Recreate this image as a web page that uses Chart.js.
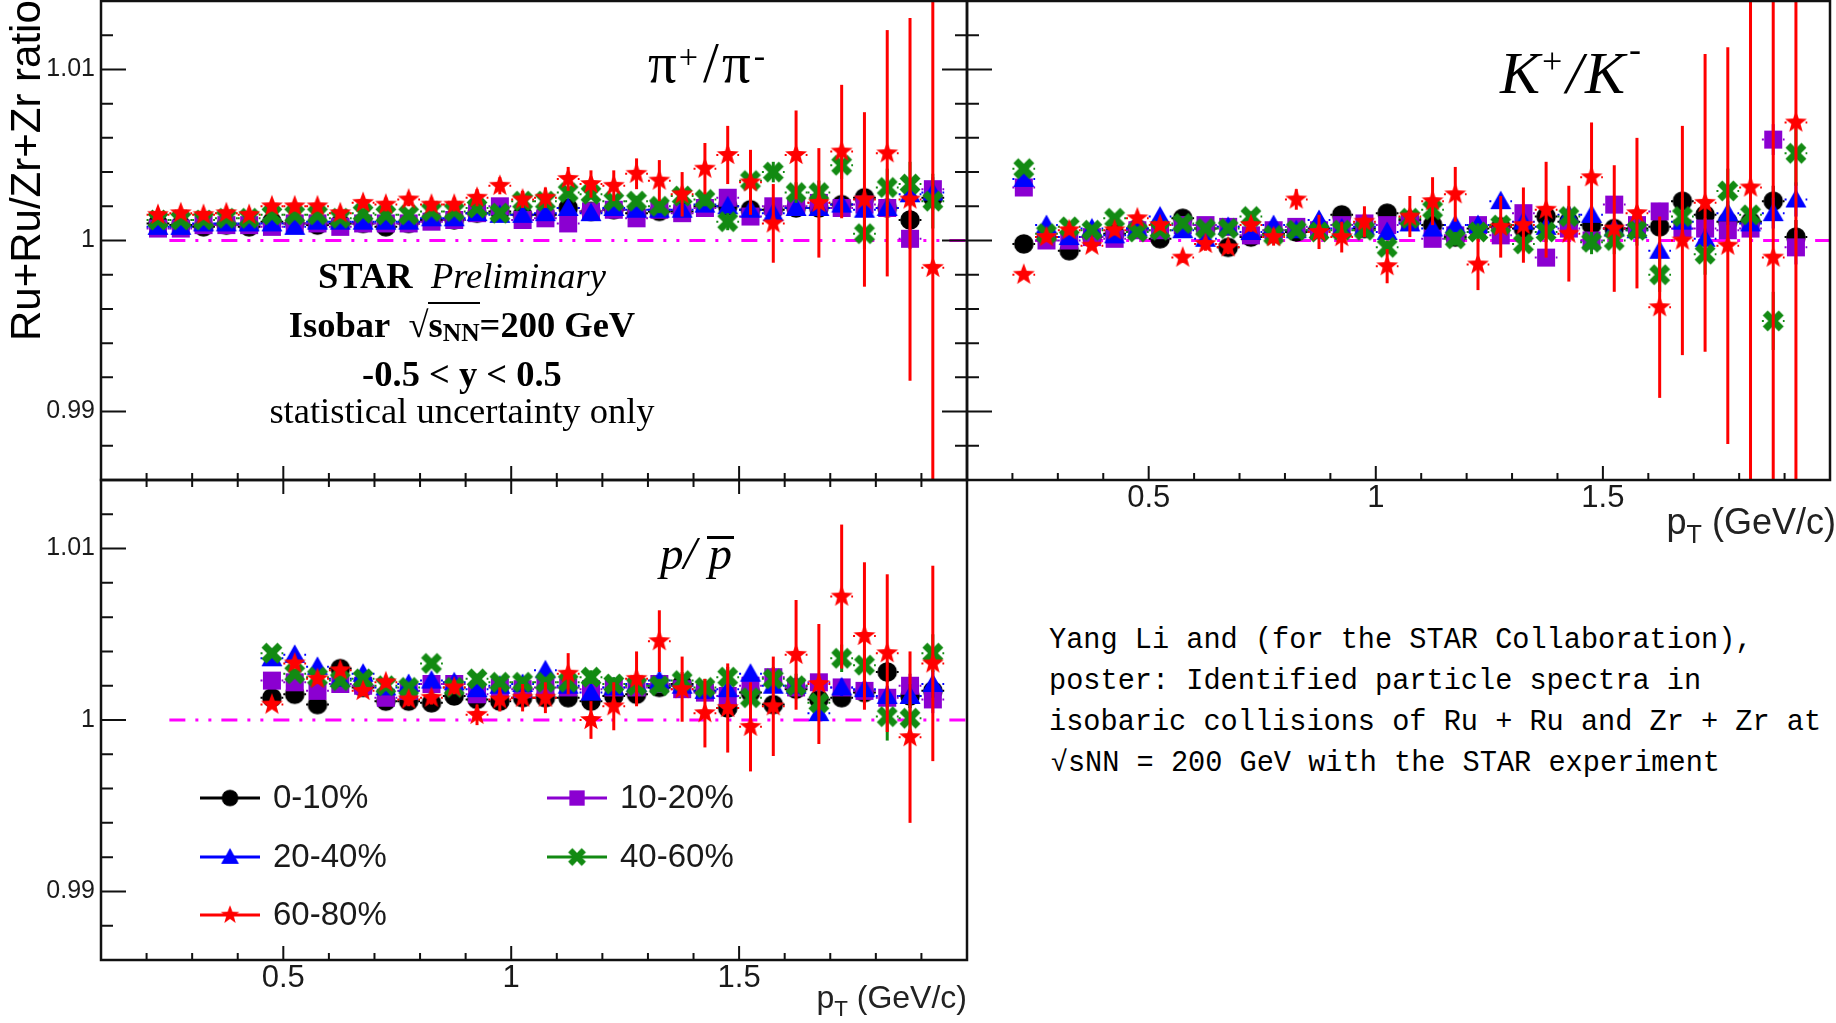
<!DOCTYPE html>
<html>
<head>
<meta charset="utf-8">
<title>Isobar ratios</title>
<script src="https://cdn.jsdelivr.net/npm/chart.js@4.4.1/dist/chart.umd.min.js"></script>
<style>
  html, body { margin: 0; padding: 0; background: #fff; }
  body { width: 1836px; height: 1023px; overflow: hidden; position: relative; }
  canvas { position: absolute; }
  .txt { position: absolute; white-space: nowrap; line-height: 1; color: #000; }
  .serif { font-family: "Liberation Serif", "Times New Roman", serif; }
  .sans { font-family: "Liberation Sans", Arial, sans-serif; }
  .up { position: relative; font-size: 0.6em; }
  .dn { position: relative; font-size: 0.7em; }
</style>
</head>
<body>
<canvas id="pionChart" width="980" height="490" style="left:0;top:0"></canvas>
<canvas id="kaonChart" width="876" height="540" style="left:960px;top:0"></canvas>
<canvas id="protonChart" width="980" height="553" style="left:0;top:470px"></canvas>

<div class="txt sans" style="left:5px;top:341px;font-size:42px;transform-origin:0 0;transform:rotate(-90deg)">Ru+Ru/Zr+Zr ratio</div>

<div class="txt serif" style="left:648px;top:34px;font-size:57px">π<span class="up" style="top:-0.4em;margin:0 2px">+</span><span style="margin:0 3px">/</span>π<span class="up" style="top:-0.45em;margin-left:3px">-</span></div>
<div class="txt serif" style="left:1500px;top:43px;font-size:60px;font-style:italic">K<span class="up" style="top:-0.55em;margin:0 4px 0 2px;font-style:normal">+</span>/<span style="margin-left:2px">K</span><span class="up" style="top:-0.9em;margin-left:4px">-</span></div>
<div class="txt serif" style="left:660px;top:530px;font-size:47px;font-style:italic">p/<span style="display:inline-block;margin-left:10px;border-top:3px solid #000;line-height:0.62em;padding:0 2px">p</span></div>

<div class="txt serif" style="left:0;width:924px;text-align:center;top:258px;font-size:36.5px"><b>STAR</b>&nbsp; <i>Preliminary</i></div>
<div class="txt serif" style="left:0;width:924px;text-align:center;top:307px;font-size:36.5px"><b>Isobar&nbsp; √<span style="border-top:2px solid #000">s<span class="dn" style="top:0.15em">NN</span></span>=200 GeV</b></div>
<div class="txt serif" style="left:0;width:924px;text-align:center;top:356px;font-size:36.5px"><b>-0.5 &lt; y &lt; 0.5</b></div>
<div class="txt serif" style="left:0;width:924px;text-align:center;top:393px;font-size:36.5px">statistical uncertainty only</div>

<div class="txt sans" style="right:0;top:504px;font-size:36px;color:#222">p<span class="dn" style="top:0.35em">T</span> (GeV/c)</div>
<div class="txt sans" style="right:869px;top:981px;font-size:32px;color:#222">p<span class="dn" style="top:0.35em">T</span> (GeV/c)</div>

<div class="txt" style="left:1049px;top:620px;font-family:'Liberation Mono',monospace;font-size:28.6px;line-height:41px">Yang Li and (for the STAR Collaboration),<br>poster: Identified particle spectra in<br>isobaric collisions of Ru + Ru and Zr + Zr at<br>&#8202;√sNN = 200 GeV with the STAR experiment</div>

<script>
// centrality classes, in legend order
const centralityLabels = ['0-10%', '10-20%', '20-40%', '40-60%', '60-80%'];

// axis ranges and tick values
const xMin = 0.1, xMax = 2.0;
const yMin = 0.986, yMax = 1.014;
const xTickValues = [0.5, 1, 1.5];
const xMinorTicks = [0.2, 0.3, 0.4, 0.6, 0.7, 0.8, 0.9, 1.1, 1.2, 1.3, 1.4, 1.6, 1.7, 1.8, 1.9];
const yTickValues = [0.99, 1, 1.01];
const yMinorTicks = [0.988, 0.992, 0.994, 0.996, 0.998, 1.002, 1.004, 1.006, 1.008, 1.012];
const binHalfWidth = 0.025;
const unityFrom = 0.25;

// pi+/pi-
const pionPt = [0.225,0.275,0.325,0.375,0.425,0.475,0.525,0.575,0.625,0.675,0.725,0.775,0.825,0.875,0.925,0.975,1.025,1.075,1.125,1.175,1.225,1.275,1.325,1.375,1.425,1.475,1.525,1.575,1.625,1.675,1.725,1.775,1.825,1.875,1.925];
const pion0_10  = [1.0010,1.0009,1.0008,1.0009,1.0008,1.0011,1.0010,1.0009,1.0010,1.0010,1.0008,1.0010,1.0012,1.0012,1.0016,1.0017,1.0015,1.0015,1.0019,1.0017,1.0018,1.0016,1.0017,1.0017,1.0020,1.0020,1.0018,1.0018,1.0019,1.0019,1.0021,1.0025,1.0019,1.0012,1.0025];
const pion10_20 = [1.0007,1.0007,1.0009,1.0009,1.0009,1.0008,1.0010,1.0010,1.0008,1.0010,1.0010,1.0010,1.0011,1.0012,1.0016,1.0020,1.0012,1.0013,1.0010,1.0017,1.0018,1.0013,1.0018,1.0016,1.0019,1.0025,1.0014,1.0020,1.0020,1.0022,1.0019,1.0021,1.0019,1.0001,1.0030];
const pion20_40 = [1.0008,1.0008,1.0010,1.0010,1.0010,1.0010,1.0008,1.0011,1.0011,1.0011,1.0011,1.0011,1.0013,1.0013,1.0016,1.0015,1.0015,1.0016,1.0019,1.0016,1.0019,1.0018,1.0018,1.0018,1.0021,1.0020,1.0018,1.0016,1.0019,1.0019,1.0021,1.0018,1.0019,1.0027,1.0028];
const pion40_60 = [1.0012,1.0012,1.0012,1.0013,1.0013,1.0015,1.0015,1.0015,1.0013,1.0016,1.0015,1.0015,1.0017,1.0017,1.0019,1.0016,1.0023,1.0023,1.0028,1.0027,1.0023,1.0023,1.0020,1.0026,1.0024,1.0011,1.0035,1.0040,1.0028,1.0028,1.0044,1.0004,1.0031,1.0033,1.0023];
const pion60_80 = [1.0015,1.0016,1.0015,1.0016,1.0015,1.0020,1.0020,1.0020,1.0016,1.0022,1.0021,1.0024,1.0021,1.0021,1.0025,1.0032,1.0024,1.0025,1.0036,1.0033,1.0032,1.0039,1.0035,1.0027,1.0042,1.0050,1.0034,1.0010,1.0050,1.0022,1.0052,1.0024,1.0051,1.0024,0.9984];
const pionErrCentral = [0.0001,0.0001,0.0001,0.0001,0.0001,0.0001,0.0001,0.0001,0.0001,0.0001,0.0001,0.0001,0.0001,0.0001,0.0001,0.0001,0.0001,0.0001,0.0002,0.0002,0.0002,0.0002,0.0002,0.0002,0.0002,0.0003,0.0003,0.0003,0.0003,0.0004,0.0004,0.0005,0.0005,0.0006,0.0007];
const pionErr40_60 = [0.0001,0.0001,0.0001,0.0001,0.0001,0.0001,0.0001,0.0001,0.0002,0.0002,0.0002,0.0002,0.0002,0.0002,0.0002,0.0002,0.0002,0.0003,0.0003,0.0003,0.0003,0.0003,0.0004,0.0004,0.0004,0.0005,0.0005,0.0006,0.0006,0.0007,0.0008,0.0009,0.0011,0.0013,0.0016];
const pionErr60_80 = [0.0002,0.0002,0.0002,0.0002,0.0002,0.0003,0.0003,0.0003,0.0003,0.0003,0.0004,0.0004,0.0004,0.0004,0.0005,0.0005,0.0005,0.0006,0.0007,0.0008,0.0009,0.0009,0.0012,0.0013,0.0015,0.0017,0.0019,0.0023,0.0026,0.0032,0.0039,0.0051,0.0072,0.0106,0.0190];

// K+/K-
const kaonPt = [0.225,0.275,0.325,0.375,0.425,0.475,0.525,0.575,0.625,0.675,0.725,0.775,0.825,0.875,0.925,0.975,1.025,1.075,1.125,1.175,1.225,1.275,1.325,1.375,1.425,1.475,1.525,1.575,1.625,1.675,1.725,1.775,1.825,1.875,1.925];
const kaon0_10  = [0.9998,1.0002,0.9994,1.0002,1.0004,1.0007,1.0001,1.0013,1.0007,0.9996,1.0002,1.0004,1.0005,1.0007,1.0015,1.0007,1.0016,1.0012,1.0009,1.0002,1.0007,1.0008,1.0007,1.0014,1.0011,1.0009,1.0007,1.0007,1.0008,1.0023,1.0015,1.0011,1.0011,1.0023,1.0002];
const kaon10_20 = [1.0031,1.0000,1.0000,1.0002,1.0001,1.0006,1.0006,1.0009,1.0009,1.0008,1.0003,1.0006,1.0008,1.0006,1.0009,1.0010,1.0009,1.0011,1.0001,1.0003,1.0009,1.0003,1.0016,0.9990,1.0007,1.0000,1.0021,1.0009,1.0017,1.0007,1.0007,1.0006,1.0007,1.0059,0.9996];
const kaon20_40 = [1.0036,1.0009,1.0002,1.0007,1.0003,1.0007,1.0014,1.0006,1.0001,1.0008,1.0005,1.0009,1.0006,1.0012,1.0007,1.0008,1.0005,1.0010,1.0007,1.0009,1.0009,1.0023,1.0011,1.0008,1.0015,1.0015,1.0007,1.0006,0.9994,1.0011,1.0001,1.0016,1.0010,1.0016,1.0024];
const kaon40_60 = [1.0042,1.0004,1.0008,1.0006,1.0013,1.0005,1.0006,1.0010,1.0007,1.0007,1.0014,1.0003,1.0006,1.0005,1.0006,1.0006,0.9996,1.0013,1.0018,1.0001,1.0005,1.0009,0.9998,1.0005,1.0014,0.9999,1.0000,1.0006,0.9980,1.0014,0.9992,1.0029,1.0015,0.9953,1.0051];
const kaon60_80 = [0.9980,1.0002,1.0006,0.9997,1.0006,1.0013,1.0009,0.9990,0.9998,0.9996,1.0009,1.0002,1.0024,1.0005,1.0002,1.0011,0.9985,1.0014,1.0023,1.0027,0.9986,1.0008,1.0009,1.0018,1.0004,1.0037,1.0007,1.0016,0.9961,1.0000,1.0022,0.9997,1.0031,0.9990,1.0069];
const kaonErrCentral = [0.0001,0.0001,0.0001,0.0001,0.0001,0.0001,0.0001,0.0001,0.0001,0.0001,0.0002,0.0002,0.0002,0.0002,0.0002,0.0002,0.0002,0.0002,0.0003,0.0003,0.0003,0.0003,0.0003,0.0004,0.0004,0.0004,0.0004,0.0005,0.0005,0.0005,0.0006,0.0007,0.0008,0.0009,0.0010];
const kaonErr40_60 = [0.0002,0.0002,0.0002,0.0002,0.0002,0.0002,0.0002,0.0002,0.0002,0.0002,0.0003,0.0003,0.0003,0.0003,0.0003,0.0003,0.0004,0.0004,0.0004,0.0004,0.0005,0.0005,0.0005,0.0006,0.0006,0.0007,0.0008,0.0009,0.0010,0.0011,0.0012,0.0013,0.0015,0.0017,0.0019];
const kaonErr60_80 = [0.0002,0.0002,0.0002,0.0002,0.0003,0.0003,0.0003,0.0003,0.0004,0.0004,0.0004,0.0005,0.0006,0.0010,0.0009,0.0009,0.0010,0.0012,0.0014,0.0016,0.0015,0.0018,0.0022,0.0028,0.0028,0.0032,0.0037,0.0044,0.0053,0.0067,0.0087,0.0116,0.0190,0.0200,0.0220];

// p/pbar
const protonPt = [0.475,0.525,0.575,0.625,0.675,0.725,0.775,0.825,0.875,0.925,0.975,1.025,1.075,1.125,1.175,1.225,1.275,1.325,1.375,1.425,1.475,1.525,1.575,1.625,1.675,1.725,1.775,1.825,1.875,1.925];
const proton0_10  = [1.0013,1.0015,1.0009,1.0030,1.0019,1.0011,1.0011,1.0010,1.0014,1.0012,1.0011,1.0013,1.0013,1.0013,1.0011,1.0014,1.0015,1.0019,1.0021,1.0017,1.0007,1.0016,1.0009,1.0018,1.0012,1.0013,1.0016,1.0028,1.0014,1.0017];
const proton10_20 = [1.0023,1.0022,1.0017,1.0021,1.0020,1.0013,1.0017,1.0021,1.0021,1.0015,1.0019,1.0018,1.0019,1.0019,1.0018,1.0019,1.0019,1.0021,1.0018,1.0016,1.0014,1.0020,1.0025,1.0019,1.0022,1.0019,1.0017,1.0013,1.0020,1.0012];
const proton20_40 = [1.0036,1.0038,1.0031,1.0024,1.0027,1.0019,1.0021,1.0023,1.0022,1.0018,1.0020,1.0021,1.0029,1.0020,1.0016,1.0019,1.0021,1.0023,1.0020,1.0017,1.0018,1.0027,1.0020,1.0020,1.0004,1.0019,1.0018,1.0014,1.0014,1.0021];
const proton40_60 = [1.0039,1.0027,1.0025,1.0023,1.0024,1.0020,1.0019,1.0033,1.0019,1.0024,1.0022,1.0022,1.0022,1.0022,1.0025,1.0021,1.0020,1.0020,1.0023,1.0019,1.0025,1.0013,1.0024,1.0020,1.0010,1.0036,1.0032,1.0002,1.0001,1.0039];
const proton60_80 = [1.0009,1.0033,1.0024,1.0029,1.0017,1.0022,1.0012,1.0013,1.0019,1.0003,1.0012,1.0013,1.0013,1.0027,1.0000,1.0008,1.0024,1.0046,1.0018,1.0004,1.0007,0.9996,1.0008,1.0038,1.0021,1.0072,1.0049,1.0039,0.9990,1.0033];
const protonErrCentral = [0.0001,0.0001,0.0001,0.0001,0.0001,0.0001,0.0001,0.0001,0.0002,0.0002,0.0002,0.0002,0.0002,0.0002,0.0002,0.0002,0.0003,0.0003,0.0003,0.0003,0.0003,0.0004,0.0004,0.0004,0.0004,0.0005,0.0005,0.0006,0.0007,0.0008];
const protonErr40_60 = [0.0002,0.0002,0.0002,0.0002,0.0002,0.0002,0.0002,0.0002,0.0002,0.0003,0.0003,0.0003,0.0003,0.0003,0.0004,0.0004,0.0004,0.0004,0.0005,0.0005,0.0006,0.0006,0.0007,0.0007,0.0008,0.0008,0.0009,0.0014,0.0010,0.0011];
const protonErr60_80 = [0.0002,0.0003,0.0003,0.0003,0.0003,0.0003,0.0004,0.0004,0.0004,0.0006,0.0007,0.0008,0.0009,0.0012,0.0011,0.0014,0.0016,0.0018,0.0019,0.0020,0.0026,0.0026,0.0029,0.0032,0.0035,0.0042,0.0043,0.0046,0.0050,0.0057];

const colors = ['#000000', '#8b00d1', '#0000ff', '#128a12', '#ff0000'];
const shapes = ['circle', 'square', 'triangle', 'cross', 'star'];

Chart.defaults.font.family = '"Liberation Sans", Arial, sans-serif';

// ROOT-like filled markers, drawn once and used as point styles
function makeMarker(shape, color) {
    var c = document.createElement('canvas');
    c.width = c.height = 26;
    var g = c.getContext('2d');
    g.fillStyle = color;
    g.strokeStyle = color;
    g.translate(13, 13);
    g.beginPath();
    if (shape === 'circle') g.arc(0, 0, 9.8, 0, Math.PI * 2);
    if (shape === 'square') g.rect(-9, -9, 18, 18);
    if (shape === 'triangle') { g.moveTo(0, -10.5); g.lineTo(10.5, 8); g.lineTo(-10.5, 8); g.closePath(); }
    if (shape === 'star') {
        for (var k = 0; k < 10; k++) {
            var r = k % 2 ? 4.8 : 11.5;
            var a = -Math.PI / 2 + k * Math.PI / 5;
            g.lineTo(r * Math.cos(a), r * Math.sin(a));
        }
        g.closePath();
    }
    if (shape === 'cross') {
        g.lineWidth = 7;
        g.moveTo(-8, -8); g.lineTo(8, 8);
        g.moveTo(8, -8); g.lineTo(-8, 8);
        g.stroke();
        return c;
    }
    g.fill();
    return c;
}
const markers = shapes.map(function(s, k) { return makeMarker(s, colors[k]); });

function buildDatasets(pt, series, errs) {
    var sets = series.map(function(vals, k) {
        return {
            label: centralityLabels[k],
            data: vals.map(function(v, i) { return { x: pt[i], y: v }; }),
            errY: errs[k],
            pointStyle: markers[k],
            pointRadius: 10,
            borderColor: colors[k],
            backgroundColor: colors[k],
            order: 5 - k
        };
    });
    // ratio = 1 reference line
    sets.push({
        data: [{ x: unityFrom, y: 1 }, { x: xMax, y: 1 }],
        showLine: true,
        borderColor: '#ff00ff',
        borderWidth: 3,
        borderDash: [16, 10, 3, 10, 3, 10],
        pointRadius: 0,
        order: 9
    });
    return sets;
}

// vertical stat. errors (solid) and bin width (dotted)
const errorBars = {
    id: 'errorBars',
    beforeDatasetDraw: function(chart, args) {
        var ds = chart.data.datasets[args.index];
        if (!ds.errY) return;
        var ctx = chart.ctx, a = chart.chartArea, xs = chart.scales.x, ys = chart.scales.y;
        ctx.save();
        ctx.beginPath();
        ctx.rect(a.left, a.top, a.width, a.height);
        ctx.clip();
        ctx.strokeStyle = ds.borderColor;
        ds.data.forEach(function(p, i) {
            var px = xs.getPixelForValue(p.x), py = ys.getPixelForValue(p.y);
            ctx.setLineDash([]);
            ctx.lineWidth = 3;
            ctx.beginPath();
            ctx.moveTo(px, ys.getPixelForValue(p.y + ds.errY[i]));
            ctx.lineTo(px, ys.getPixelForValue(p.y - ds.errY[i]));
            ctx.stroke();
            ctx.setLineDash([2, 5]);
            ctx.lineWidth = 2;
            ctx.beginPath();
            ctx.moveTo(xs.getPixelForValue(p.x - binHalfWidth), py);
            ctx.lineTo(xs.getPixelForValue(p.x + binHalfWidth), py);
            ctx.stroke();
        });
        ctx.restore();
    }
};

// frame plus inward major/minor ticks
const rootAxes = {
    id: 'rootAxes',
    afterDatasetsDraw: function(chart, args, opts) {
        var ctx = chart.ctx, a = chart.chartArea, xs = chart.scales.x, ys = chart.scales.y;
        ctx.save();
        ctx.strokeStyle = '#111';
        ctx.lineWidth = 2;
        ctx.beginPath();
        (opts.ySides || []).forEach(function(side) {
            var x0 = side === 'left' ? a.left : a.right, dir = side === 'left' ? 1 : -1;
            ys.ticks.forEach(function(t) { var p = ys.getPixelForValue(t.value); ctx.moveTo(x0, p); ctx.lineTo(x0 + dir * 25, p); });
            yMinorTicks.forEach(function(v) { var p = ys.getPixelForValue(v); ctx.moveTo(x0, p); ctx.lineTo(x0 + dir * 12, p); });
        });
        (opts.xSides || []).forEach(function(side) {
            var y0 = side === 'bottom' ? a.bottom : a.top, dir = side === 'bottom' ? -1 : 1;
            xs.ticks.forEach(function(t) { var p = xs.getPixelForValue(t.value); ctx.moveTo(p, y0); ctx.lineTo(p, y0 + dir * 14); });
            xMinorTicks.forEach(function(v) { var p = xs.getPixelForValue(v); ctx.moveTo(p, y0); ctx.lineTo(p, y0 + dir * 7); });
        });
        ctx.stroke();
        ctx.lineWidth = 2.5;
        ctx.strokeRect(a.left, a.top, a.width, a.height);
        ctx.restore();
    }
};

// two-column legend inside the p/pbar panel
const legendSlots = [[0, 200, 328], [1, 547, 328], [2, 200, 387], [3, 547, 387], [4, 200, 445]];
const centLegend = {
    id: 'centLegend',
    afterDraw: function(chart) {
        var ctx = chart.ctx;
        ctx.save();
        legendSlots.forEach(function(slot) {
            var ds = chart.data.datasets[slot[0]], lx = slot[1], ly = slot[2];
            ctx.strokeStyle = ds.borderColor;
            ctx.lineWidth = 3;
            ctx.beginPath();
            ctx.moveTo(lx, ly);
            ctx.lineTo(lx + 60, ly);
            ctx.stroke();
            ctx.drawImage(ds.pointStyle, lx + 30 - 11, ly - 11, 22, 22);
            ctx.fillStyle = '#1a1a1a';
            ctx.font = '33px "Liberation Sans"';
            ctx.textBaseline = 'middle';
            ctx.textAlign = 'left';
            ctx.fillText(ds.label, lx + 73, ly + 1);
        });
        ctx.restore();
    }
};

function tickText(v) { return String(+v.toFixed(3)); }
function noPadding(s) { s.paddingTop = 0; s.paddingBottom = 0; s.paddingLeft = 0; s.paddingRight = 0; }

function makePanel(id, datasets, cfg, extraPlugins) {
    return new Chart(document.getElementById(id), {
        type: 'scatter',
        data: { datasets: datasets },
        options: {
            responsive: false,
            animation: false,
            events: [],
            layout: { padding: cfg.pad, autoPadding: false },
            plugins: {
                legend: { display: false },
                tooltip: { enabled: false },
                rootAxes: { ySides: cfg.ySides, xSides: cfg.xSides }
            },
            scales: {
                x: {
                    type: 'linear', min: xMin, max: xMax,
                    grid: { display: false, drawTicks: false },
                    border: { display: false },
                    afterBuildTicks: function(s) { s.ticks = xTickValues.map(function(v) { return { value: v }; }); },
                    afterFit: function(s) { s.height = cfg.xh; noPadding(s); },
                    ticks: { display: cfg.xLabels, padding: 0, color: '#1a1a1a', font: { size: 31 }, maxRotation: 0, autoSkip: false, callback: tickText }
                },
                y: {
                    type: 'linear', min: yMin, max: yMax,
                    grid: { display: false, drawTicks: false },
                    border: { display: false },
                    afterBuildTicks: function(s) { s.ticks = yTickValues.map(function(v) { return { value: v }; }); },
                    afterFit: function(s) { s.width = cfg.yw; noPadding(s); },
                    ticks: { display: cfg.yLabels, padding: 6, color: '#1a1a1a', font: { size: 25 }, autoSkip: false, callback: tickText }
                }
            }
        },
        plugins: [errorBars, rootAxes].concat(extraPlugins || [])
    });
}

makePanel('pionChart',
    buildDatasets(pionPt, [pion0_10, pion10_20, pion20_40, pion40_60, pion60_80],
        [pionErrCentral, pionErrCentral, pionErrCentral, pionErr40_60, pionErr60_80]),
    { pad: { top: 1, right: 13, bottom: 0, left: 0 }, xh: 10, yw: 101, xLabels: false, yLabels: true, ySides: ['left', 'right'], xSides: ['bottom'] });

makePanel('kaonChart',
    buildDatasets(kaonPt, [kaon0_10, kaon10_20, kaon20_40, kaon40_60, kaon60_80],
        [kaonErrCentral, kaonErrCentral, kaonErrCentral, kaonErr40_60, kaonErr60_80]),
    { pad: { top: 1, right: 6, bottom: 0, left: 7 }, xh: 60, yw: 0, xLabels: true, yLabels: false, ySides: ['left'], xSides: ['bottom'] });

makePanel('protonChart',
    buildDatasets(protonPt, [proton0_10, proton10_20, proton20_40, proton40_60, proton60_80],
        [protonErrCentral, protonErrCentral, protonErrCentral, protonErr40_60, protonErr60_80]),
    { pad: { top: 10, right: 13, bottom: 0, left: 0 }, xh: 63, yw: 101, xLabels: true, yLabels: true, ySides: ['left'], xSides: ['bottom', 'top'] },
    [centLegend]);
</script>
</body>
</html>
